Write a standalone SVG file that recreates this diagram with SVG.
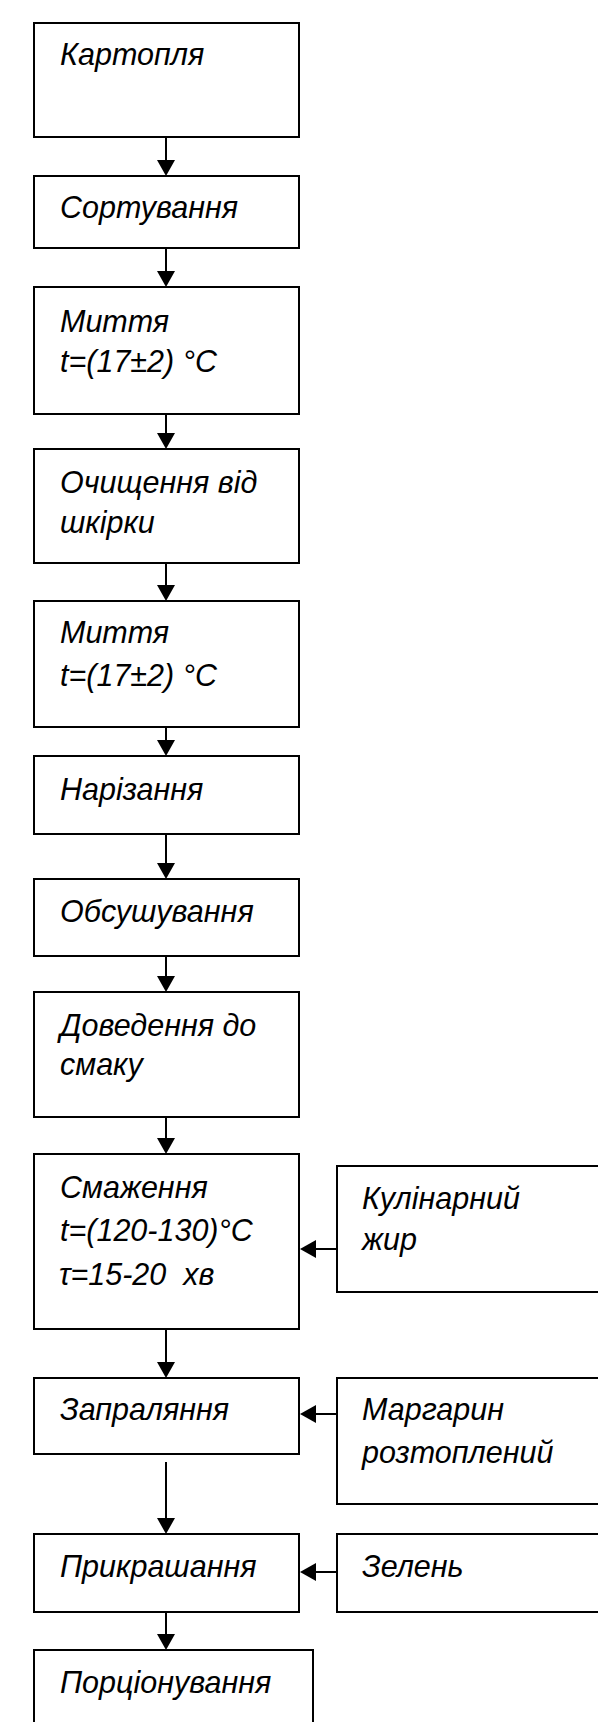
<svg xmlns="http://www.w3.org/2000/svg" width="598" height="1722" viewBox="0 0 598 1722">
<style>
.box{fill:#fff;stroke:#000;stroke-width:2}
.t{font-family:"Liberation Sans",Arial,sans-serif;font-style:italic;font-size:30.5px;fill:#000}
.c{stroke:#000;stroke-width:2;fill:none;marker-end:url(#ah)}
</style>
<defs>
<marker id="ah" markerUnits="userSpaceOnUse" viewBox="0 0 16 18" refX="6" refY="9" markerWidth="16" markerHeight="18" orient="auto">
<path d="M0,0 L16,9 L0,18 Z" fill="#000"/>
</marker>
</defs>
<rect width="598" height="1722" fill="#fff"/>
<g id="n1"><rect class="box" x="34" y="23" width="265" height="114"/><text class="t" x="60" y="65">Картопля</text></g>
<g id="n2"><rect class="box" x="34" y="176" width="265" height="72"/><text class="t" x="60" y="218">Сортування</text></g>
<g id="n3"><rect class="box" x="34" y="287" width="265" height="127"/><text class="t" x="60" y="332">Миття</text><text class="t" x="60" y="372">t=(17±2) °C</text></g>
<g id="n4"><rect class="box" x="34" y="449" width="265" height="114"/><text class="t" x="60" y="493">Очищення від</text><text class="t" x="60" y="533">шкірки</text></g>
<g id="n5"><rect class="box" x="34" y="601" width="265" height="126"/><text class="t" x="60" y="643">Миття</text><text class="t" x="60" y="686">t=(17±2) °C</text></g>
<g id="n6"><rect class="box" x="34" y="756" width="265" height="78"/><text class="t" x="60" y="800">Нарізання</text></g>
<g id="n7"><rect class="box" x="34" y="879" width="265" height="77"/><text class="t" x="60" y="922">Обсушування</text></g>
<g id="n8"><rect class="box" x="34" y="992" width="265" height="125"/><text class="t" x="60" y="1036">Доведення до</text><text class="t" x="60" y="1075">смаку</text></g>
<g id="n9"><rect class="box" x="34" y="1154" width="265" height="175"/><text class="t" x="60" y="1198">Смаження</text><text class="t" x="60" y="1241">t=(120-130)°C</text><text class="t" x="59" y="1285" xml:space="preserve">τ=15-20  хв</text></g>
<g id="n10"><rect class="box" x="34" y="1378" width="265" height="76"/><text class="t" x="60" y="1420">Запраляння</text></g>
<g id="n11"><rect class="box" x="34" y="1534" width="265" height="78"/><text class="t" x="60" y="1577">Прикрашання</text></g>
<g id="n12"><rect class="box" x="34" y="1650" width="279" height="90"/><text class="t" x="60" y="1693">Порціонування</text></g>
<g id="r1"><rect class="box" x="337" y="1166" width="280" height="126"/><text class="t" x="362" y="1209">Кулінарний</text><text class="t" x="362" y="1250">жир</text></g>
<g id="r2"><rect class="box" x="337" y="1378" width="280" height="126"/><text class="t" x="362" y="1420">Маргарин</text><text class="t" x="362" y="1463">розтоплений</text></g>
<g id="r3"><rect class="box" x="337" y="1534" width="280" height="78"/><text class="t" x="362" y="1577">Зелень</text></g>
<g id="connectors">
<line class="c" x1="166" y1="137" x2="166" y2="166"/>
<line class="c" x1="166" y1="248" x2="166" y2="277"/>
<line class="c" x1="166" y1="414" x2="166" y2="439"/>
<line class="c" x1="166" y1="563" x2="166" y2="591"/>
<line class="c" x1="166" y1="727" x2="166" y2="746"/>
<line class="c" x1="166" y1="834" x2="166" y2="869"/>
<line class="c" x1="166" y1="956" x2="166" y2="982"/>
<line class="c" x1="166" y1="1117" x2="166" y2="1144"/>
<line class="c" x1="166" y1="1329" x2="166" y2="1368"/>
<line class="c" x1="166" y1="1462" x2="166" y2="1524"/>
<line class="c" x1="166" y1="1612" x2="166" y2="1640"/>
<line class="c" x1="337" y1="1249" x2="310" y2="1249"/>
<line class="c" x1="337" y1="1414" x2="310" y2="1414"/>
<line class="c" x1="337" y1="1572" x2="310" y2="1572"/>
</g>
</svg>
